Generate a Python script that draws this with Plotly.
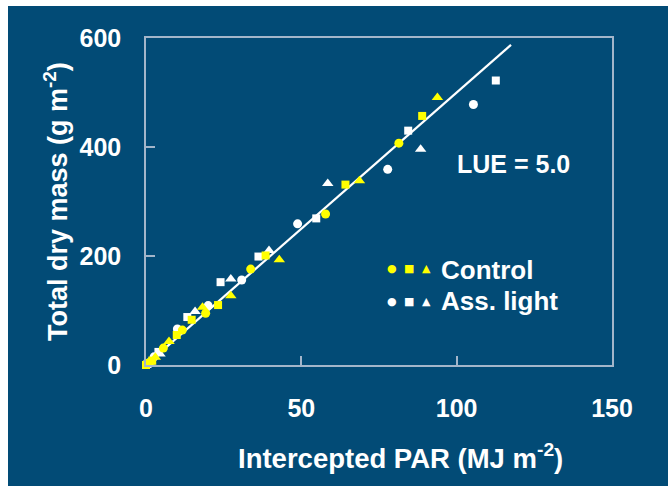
import plotly.graph_objects as go

# ---- data ----
ctrl_circle_x = [0.5, 5.6, 11.7, 19.2, 33.7, 57.8, 81.4]
ctrl_circle_y = [3, 31, 64, 95, 176, 277, 407]
ctrl_square_x = [0, 2, 9.9, 14.7, 23.2, 38.5, 64.2, 88.9]
ctrl_square_y = [0, 8, 55, 83, 110, 201, 331, 457]
ctrl_tri_x = [1, 3, 7.4, 18.2, 27.3, 42.9, 68.7, 93.8]
ctrl_tri_y = [5, 14, 43, 106, 127, 193, 338, 491]

ass_circle_x = [1, 2.6, 10.1, 20.0, 30.8, 48.8, 77.8, 105.4]
ass_circle_y = [4, 15, 66, 109, 156, 259, 359, 478]
ass_square_x = [0.5, 4.0, 13.3, 24.0, 36.2, 54.8, 84.4, 112.6]
ass_square_y = [2, 24, 88, 152, 199, 269, 430, 522]
ass_tri_x = [1.5, 4.5, 15.8, 27.3, 39.6, 58.5, 88.4]
ass_tri_y = [6, 20, 98, 158, 210, 333, 396]

LUE = 5.0
fit_x = [0, 117.5]
fit_y = [LUE * v for v in fit_x]

x_ticks = [0, 50, 100, 150]
y_ticks = [0, 200, 400, 600]

BG = "#024b76"
FRAME = "#a3b6ca"
YEL = "#ffff00"
WHITE = "#ffffff"
FONT = "Liberation Sans"

fig = go.Figure()

fig.add_trace(go.Scatter(x=fit_x, y=fit_y, mode="lines",
                         line=dict(color=WHITE, width=2.2), showlegend=False))

series = [
    (ass_circle_x, ass_circle_y, "circle", WHITE, 9),
    (ass_square_x, ass_square_y, "square", WHITE, 8),
    (ass_tri_x, ass_tri_y, "triangle-up", WHITE, 10),
    (ctrl_circle_x, ctrl_circle_y, "circle", YEL, 9),
    (ctrl_square_x, ctrl_square_y, "square", YEL, 8),
    (ctrl_tri_x, ctrl_tri_y, "triangle-up", YEL, 10),
]
for xs, ys, sym, col, sz in series:
    fig.add_trace(go.Scatter(x=xs, y=ys, mode="markers",
                             marker=dict(symbol=sym, color=col, size=sz, line=dict(width=0)),
                             showlegend=False, cliponaxis=False))

axis_common = dict(showgrid=False, zeroline=False, showline=True, mirror=True,
                   linecolor=FRAME, linewidth=1.5, ticks="inside", ticklen=9,
                   tickwidth=1.5, tickcolor=FRAME,
                   tickfont=dict(family=FONT, size=25, color=WHITE, weight="bold"))

fig.update_xaxes(range=[0, 150], tickvals=x_ticks, ticklabelstandoff=20, **axis_common)
fig.update_yaxes(range=[0, 600], tickvals=y_ticks, ticklabelstandoff=18, **axis_common)

W, H = 668, 486
L, R, T, B = 146, 612, 38, 365
pw, ph = R - L, B - T


def px(xp):
    return (xp - L) / pw


def py(yp):
    return (B - yp) / ph


def tfont(size):
    return dict(family=FONT, size=size, color=WHITE, weight="bold")


annotations = [
    dict(text="Intercepted PAR (MJ m<sup>-2</sup>)", x=px(400), y=py(456), font=tfont(27.5)),
    dict(text="Total dry mass (g m<sup>-2</sup>)", x=px(56), y=py(202), textangle=-90,
         font=tfont(27)),
    dict(text="LUE = 5.0", x=px(513), y=py(164), font=tfont(25)),
    dict(text="Control", x=px(439), y=py(270), xanchor="left", font=tfont(26)),
    dict(text="Ass. light", x=px(439), y=py(301), xanchor="left", font=tfont(26)),
]
legend_glyphs = ["●", "■", "▲"]
legend_gx = [392, 409, 426]
for row_y, col in [(268, YEL), (301, WHITE)]:
    for g, gx in zip(legend_glyphs, legend_gx):
        annotations.append(dict(text=g, x=px(gx), y=py(row_y),
                                font=dict(family="DejaVu Sans", size=11, color=col)))
for a in annotations:
    a.setdefault("xanchor", "center")
    a.update(xref="paper", yref="paper", showarrow=False, yanchor="middle")

fig.update_layout(
    width=W, height=H,
    margin=dict(l=L, r=W - R, t=T, b=H - B, pad=0),
    paper_bgcolor="white", plot_bgcolor=BG,
    annotations=annotations,
    shapes=[dict(type="rect", xref="paper", yref="paper", layer="below",
                 x0=px(8), x1=px(W + 2), y0=py(H + 2), y1=py(6),
                 fillcolor=BG, line=dict(width=0))],
)

fig.write_html("out.html")
